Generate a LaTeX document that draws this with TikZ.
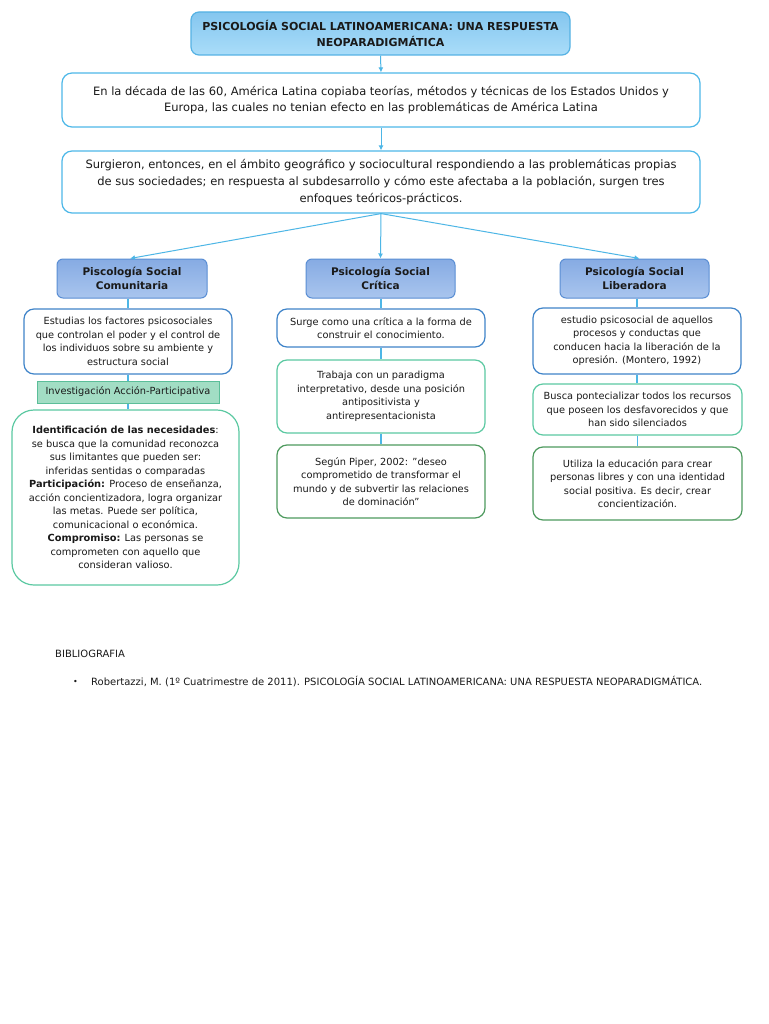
\documentclass[tikz,border=0pt]{standalone}
\usepackage{fontspec}
\setmainfont{DejaVu Sans}
\definecolor{conn}{HTML}{4DB6E6}
\definecolor{titletop}{HTML}{84C6EF}
\definecolor{titlebot}{HTML}{AADDF9}
\definecolor{titlebd}{HTML}{55B2E4}
\definecolor{introbd}{HTML}{4DB8E8}
\definecolor{headtop}{HTML}{86ABE3}
\definecolor{headbot}{HTML}{A9C5EE}
\definecolor{headbd}{HTML}{5A8ED4}
\definecolor{bluebd}{HTML}{3F84C9}
\definecolor{greenfill}{HTML}{A2DDC4}
\definecolor{greenbd}{HTML}{5BBE99}
\definecolor{tealbd}{HTML}{5CC9A2}
\definecolor{darkgbd}{HTML}{4E9A5E}
\definecolor{txt}{HTML}{1A1A1A}
\tikzset{
  every node/.style={text=txt, inner sep=0pt, align=center},
  titlebox/.style={draw=titlebd, line width=1.2pt, rounded corners=8pt, top color=titletop, bottom color=titlebot, font=\fontsize{11}{16}\selectfont\bfseries},
  introbox/.style={draw=introbd, line width=1.2pt, rounded corners=10pt, fill=white, font=\fontsize{11.5}{16.6}\selectfont},
  headbox/.style={draw=headbd, line width=1pt, rounded corners=6pt, top color=headtop, bottom color=headbot, font=\fontsize{10.5}{14}\selectfont\bfseries},
  smallfont/.style={font=\fontsize{9.8}{13.5}\selectfont},
  bluebox/.style={draw=bluebd, line width=1.2pt, rounded corners=10pt, fill=white, smallfont},
  tealbox/.style={draw=tealbd, line width=1.2pt, rounded corners=10pt, fill=white, smallfont},
  darkgbox/.style={draw=darkgbd, line width=1.2pt, rounded corners=10pt, fill=white, smallfont},
  greenlabel/.style={draw=greenbd, line width=1pt, fill=greenfill, smallfont},
  bigbox/.style={draw=tealbd, line width=1.2pt, rounded corners=22pt, fill=white, smallfont},
  arrowline/.style={draw=conn, line width=1pt, -{Latex[length=5pt,width=5pt]}},
  plainline/.style={draw=conn, line width=1.2pt},
  plaintext/.style={font=\fontsize{10}{12}\selectfont, anchor=west}
}
\usetikzlibrary{arrows.meta}
\begin{document}
\begin{tikzpicture}[x=1pt,y=-1pt]
\useasboundingbox[fill=white] (0,0) rectangle (768,1024);

\node[titlebox, minimum width=379pt, minimum height=43pt] (title) at (380.5,33.5)
  {PSICOLOGÍA SOCIAL LATINOAMERICANA: UNA RESPUESTA\\NEOPARADIGMÁTICA};

\node[introbox, minimum width=638pt, minimum height=54pt] (intro) at (381,100)
  {En la década de las 60, América Latina copiaba teorías, métodos y técnicas de los Estados Unidos y\\Europa, las cuales no tenian efecto en las problemáticas de América Latina};

\node[introbox, minimum width=638pt, minimum height=62pt] (surg) at (381,182)
  {Surgieron, entonces, en el ámbito geográfico y sociocultural respondiendo a las problemáticas propias\\de sus sociedades; en respuesta al subdesarrollo y cómo este afectaba a la población, surgen tres\\enfoques teóricos-prácticos.};

\node[headbox, minimum width=150pt, minimum height=39pt] (hL) at (132,278.5) {Piscología Social\\Comunitaria};
\node[headbox, minimum width=149pt, minimum height=39pt] (hC) at (380.5,278.5) {Psicología Social\\Crítica};
\node[headbox, minimum width=149pt, minimum height=39pt] (hR) at (634.5,278.5) {Psicología Social\\Liberadora};

% left column
\node[bluebox, minimum width=208pt, minimum height=65pt] (L1) at (128,341.5)
  {Estudias los factores psicosociales\\que controlan el poder y el control de\\los individuos sobre su ambiente y\\estructura social};
\node[greenlabel, minimum width=182pt, minimum height=22pt] (Lg) at (128,392)
  {Investigación Acción-Participativa};
\node[bigbox, minimum width=227pt, minimum height=175pt] (L3) at (125.5,497.5)
  {\textbf{Identificación de las necesidades}:\\se busca que la comunidad reconozca\\sus limitantes que pueden ser:\\inferidas sentidas o comparadas\\\textbf{Participación:} Proceso de enseñanza,\\acción concientizadora, logra organizar\\las metas. Puede ser política,\\comunicacional o económica.\\\textbf{Compromiso:} Las personas se\\comprometen con aquello que\\consideran valioso.};

% center column
\node[bluebox, minimum width=208pt, minimum height=38pt] (C1) at (381,328)
  {Surge como una crítica a la forma de\\construir el conocimiento.};
\node[tealbox, minimum width=208pt, minimum height=73pt] (C2) at (381,396.5)
  {Trabaja con un paradigma\\interpretativo, desde una posición\\antipositivista y\\antirepresentacionista};
\node[darkgbox, minimum width=208pt, minimum height=73pt] (C3) at (381,481.5)
  {Según Piper, 2002: "deseo\\comprometido de transformar el\\mundo y de subvertir las relaciones\\de dominación"};

% right column
\node[bluebox, minimum width=208pt, minimum height=66pt] (R1) at (637,341)
  {estudio psicosocial de aquellos\\procesos y conductas que\\conducen hacia la liberación de la\\opresión. (Montero, 1992)};
\node[tealbox, minimum width=209pt, minimum height=51pt] (R2) at (637.5,409.5)
  {Busca pontecializar todos los recursos\\que poseen los desfavorecidos y que\\han sido silenciados};
\node[darkgbox, minimum width=209pt, minimum height=73pt] (R3) at (637.5,483.5)
  {Utiliza la educación para crear\\personas libres y con una identidad\\social positiva. Es decir, crear\\concientización.};

% connectors
\draw[arrowline] (title.south) -- (intro.north);
\draw[arrowline] (intro.south) -- (surg.north);
\draw[arrowline] (surg.south) -- ([xshift=-2pt]hL.north);
\draw[arrowline] (surg.south) -- (hC.north);
\draw[arrowline] (surg.south) -- ([xshift=5pt]hR.north);
\draw[plainline] (hL.south -| L1.north) -- (L1.north);
\draw[plainline] (L1.south) -- (Lg.north);
\draw[plainline] (Lg.south) -- (Lg.south |- L3.north);
\draw[plainline] (hC.south -| C1.north) -- (C1.north);
\draw[plainline] (C1.south) -- (C2.north);
\draw[plainline] (C2.south) -- (C3.north);
\draw[plainline] (hR.south -| R1.north) -- (R1.north);
\draw[plainline] (R1.south) -- (R1.south |- R2.north);
\draw[plainline] (R2.south) -- (R2.south |- R3.north);

% bibliography
\node[plaintext] (bib) at (55,654) {BIBLIOGRAFIA};
\node[font=\fontsize{8}{10}\selectfont] (bullet) at (75.5,682) {•};
\node[plaintext] (ref) at (91,682) {Robertazzi, M. (1º Cuatrimestre de 2011). PSICOLOGÍA SOCIAL LATINOAMERICANA: UNA RESPUESTA NEOPARADIGMÁTICA.};
\end{tikzpicture}
\end{document}
